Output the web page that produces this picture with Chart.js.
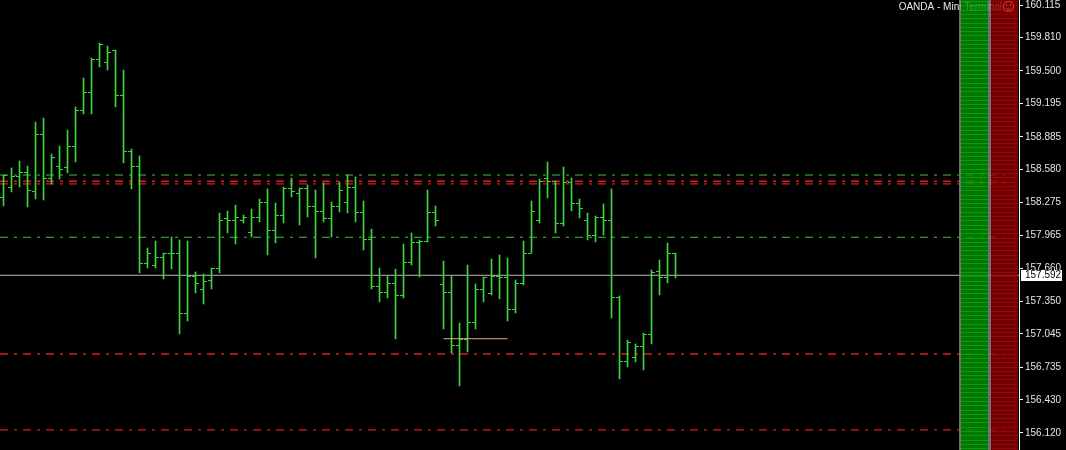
<!DOCTYPE html>
<html>
<head>
<meta charset="utf-8">
<script src="https://cdn.jsdelivr.net/npm/chart.js@4.4.1/dist/chart.umd.min.js"></script>
<style>
html, body { margin: 0; padding: 0; background: #000; overflow: hidden; }
#chart { display: block; }
</style>
</head>
<body>
<canvas id="chart" width="1066" height="450"></canvas>
<script>
// OHLC bars, oldest first
const opens = [
  158.314, 158.416, 158.510, 158.547, 158.370, 158.902, 158.491, 158.603, 158.594, 158.799,
  159.135, 159.303, 159.611, 159.583, 159.695, 159.275, 158.743, 158.612, 157.698, 157.679,
  157.754, 157.800, 157.800, 157.231, 157.585, 157.464, 157.539, 157.651, 158.118, 158.108,
  158.108, 157.996, 158.136, 158.276, 158.006, 158.146, 158.398, 158.360, 158.398, 158.230,
  158.192, 158.118, 158.230, 158.267, 158.416, 158.174, 157.922, 157.483, 157.427, 157.511,
  157.399, 157.707, 157.894, 157.903, 158.174, 157.502, 157.427, 156.941, 156.997, 157.147,
  157.464, 157.418, 157.585, 157.567, 157.268, 157.520, 157.800, 158.108, 158.491, 158.463,
  158.071, 158.454, 158.258, 158.099, 157.959, 158.136, 158.099, 157.389, 156.783, 156.829,
  156.923, 157.035, 157.623, 157.567, 157.800
];
const highs = [
  158.528, 158.594, 158.659, 158.612, 159.023, 159.060, 158.724, 158.799, 158.948, 159.163,
  159.434, 159.620, 159.760, 159.732, 159.695, 159.508, 158.771, 158.706, 157.847, 157.912,
  157.800, 157.950, 157.922, 157.912, 157.623, 157.604, 157.660, 158.174, 158.192, 158.248,
  158.155, 158.211, 158.304, 158.398, 158.267, 158.416, 158.500, 158.407, 158.435, 158.388,
  158.454, 158.276, 158.463, 158.528, 158.510, 158.286, 158.024, 157.660, 157.585, 157.651,
  157.884, 157.987, 157.922, 158.388, 158.239, 157.726, 157.585, 157.147, 157.688, 157.511,
  157.576, 157.744, 157.782, 157.754, 157.548, 157.912, 158.286, 158.491, 158.650, 158.472,
  158.603, 158.500, 158.304, 158.174, 158.146, 158.258, 158.398, 157.399, 156.988, 156.951,
  157.053, 157.642, 157.735, 157.894, 157.800
];
const lows = [
  158.239, 158.370, 158.416, 158.230, 158.304, 158.295, 158.444, 158.491, 158.547, 158.650,
  159.098, 159.098, 159.536, 159.508, 159.163, 158.640, 158.398, 157.614, 157.660, 157.660,
  157.558, 157.651, 157.044, 157.165, 157.427, 157.324, 157.464, 157.614, 157.987, 157.884,
  158.080, 157.950, 158.090, 157.782, 157.894, 158.080, 158.323, 158.061, 158.136, 157.754,
  158.090, 157.950, 158.183, 158.174, 158.090, 157.828, 157.464, 157.343, 157.380, 156.997,
  157.380, 157.688, 157.576, 157.903, 158.052, 157.091, 156.867, 156.559, 156.876, 157.091,
  157.343, 157.408, 157.371, 157.165, 157.240, 157.502, 157.800, 158.080, 158.314, 157.987,
  158.052, 158.192, 158.127, 157.922, 157.903, 157.968, 157.193, 156.624, 156.736, 156.783,
  156.708, 156.951, 157.408, 157.520, 157.567
];
const closes = [
  158.528, 158.510, 158.547, 158.379, 158.902, 158.500, 158.687, 158.584, 158.799, 159.135,
  159.303, 159.611, 159.742, 159.676, 159.275, 158.743, 158.612, 157.698, 157.800, 157.754,
  157.800, 157.800, 157.231, 157.585, 157.511, 157.530, 157.651, 158.108, 158.108, 158.127,
  158.136, 158.127, 158.276, 158.006, 158.146, 158.398, 158.370, 158.398, 158.230, 158.192,
  158.118, 158.230, 158.379, 158.416, 158.174, 157.922, 157.492, 157.436, 157.520, 157.399,
  157.707, 157.894, 157.903, 158.174, 158.099, 157.427, 156.941, 156.997, 157.147, 157.464,
  157.576, 157.585, 157.567, 157.268, 157.520, 157.800, 158.183, 158.463, 158.463, 158.071,
  158.454, 158.258, 158.220, 157.959, 158.136, 158.099, 157.389, 156.783, 156.960, 156.923,
  157.035, 157.614, 157.567, 157.800, 157.592
];

const priceTicks = [160.115, 159.810, 159.500, 159.195, 158.885, 158.580, 158.275,
  157.965, 157.660, 157.350, 157.045, 156.735, 156.430, 156.120];

const greenLevels = [158.528, 157.947];
const redLevels = [158.470, 158.446, 156.857, 156.148];
const bidPrice = 157.592;
const markLevel = 157.000;
const markFrom = 55, markTo = 63;

const BAR_COLOR = '#3fd23f';
const xMin = -0.4375, xMax = 126.9375, levelEnd = 126.2;
const yMin = 155.961, yMax = 160.162;

function tickImage(side) {
  const c = document.createElement('canvas');
  c.width = 7; c.height = 1;
  const g = c.getContext('2d');
  g.fillStyle = BAR_COLOR;
  g.fillRect(side === 'left' ? 0 : 4, 0, 3, 1);
  return c;
}

function levelLine(v, color, width) {
  return {
    type: 'line',
    data: [{ x: xMin, y: v }, { x: levelEnd, y: v }],
    borderColor: color,
    borderWidth: width,
    borderDash: [8, 6, 3, 6],
    pointRadius: 0,
    order: 5
  };
}

const idx = opens.map((_, i) => i);

const terminalPanel = {
  id: 'terminalPanel',
  afterDatasetsDraw(chart) {
    const ctx = chart.ctx;
    const r = chart.chartArea.right;
    const h = chart.height;
    ctx.save();
    ctx.font = '10px "Liberation Sans", Arial, sans-serif';
    ctx.fillStyle = '#e8e8e8';
    ctx.textAlign = 'right';
    ctx.textBaseline = 'alphabetic';
    ctx.fillText('OANDA - Mini Terminal', r - 17, 10);

    ctx.globalAlpha = 0.82;
    ctx.fillStyle = '#8a8a8a';
    ctx.fillRect(r - 60, 0, 2, h);
    ctx.fillRect(r - 31, 0, 3, h);
    ctx.fillStyle = '#009200';
    ctx.fillRect(r - 58, 0, 27, h);
    ctx.fillStyle = '#8c0000';
    ctx.fillRect(r - 28, 0, 27, h);
    ctx.globalAlpha = 0.35;
    for (let y = 1; y < h; y += 4.3) {
      ctx.fillStyle = '#30d030';
      ctx.fillRect(r - 58, Math.round(y), 27, 1);
      ctx.fillStyle = '#c02020';
      ctx.fillRect(r - 28, Math.round(y), 27, 1);
    }
    ctx.globalAlpha = 1;

    // smiley
    const cx = r - 10.5, cy = 6.5;
    ctx.strokeStyle = '#ff3a3a';
    ctx.lineWidth = 1;
    ctx.beginPath(); ctx.arc(cx, cy, 5, 0, Math.PI * 2); ctx.stroke();
    ctx.fillStyle = '#ff3a3a';
    ctx.fillRect(cx - 2.5, cy - 2, 1.2, 1.2);
    ctx.fillRect(cx + 1.3, cy - 2, 1.2, 1.2);
    ctx.beginPath(); ctx.arc(cx, cy + 0.3, 2.6, 0.2 * Math.PI, 0.8 * Math.PI); ctx.stroke();
    ctx.restore();
  },
  afterDraw(chart) {
    const ctx = chart.ctx;
    const y = chart.scales.y.getPixelForValue(bidPrice);
    const r = chart.chartArea.right;
    ctx.save();
    ctx.fillStyle = '#ffffff';
    ctx.fillRect(r + 2, Math.round(y) - 5, 41, 11);
    ctx.fillStyle = '#000000';
    ctx.font = '10px "Liberation Sans", Arial, sans-serif';
    ctx.textAlign = 'left';
    ctx.textBaseline = 'middle';
    ctx.fillText(bidPrice.toFixed(3), r + 6, Math.round(y) + 0.5);
    ctx.restore();
  }
};

const blackBg = {
  id: 'blackBg',
  beforeDraw(chart) {
    const ctx = chart.ctx;
    ctx.save();
    ctx.fillStyle = '#000';
    ctx.fillRect(0, 0, chart.width, chart.height);
    ctx.restore();
  }
};

const datasets = [
  {
    type: 'bar',
    data: idx.map(i => ({ x: i, y: [lows[i], highs[i]] })),
    backgroundColor: BAR_COLOR,
    borderWidth: 0,
    barThickness: 1,
    order: 1
  },
  {
    type: 'scatter',
    data: idx.map(i => ({ x: i, y: opens[i] })),
    pointStyle: tickImage('left'),
    order: 1
  },
  {
    type: 'scatter',
    data: idx.map(i => ({ x: i, y: closes[i] })),
    pointStyle: tickImage('right'),
    order: 1
  },
  ...greenLevels.map(v => levelLine(v, '#3cbf3c', 1)),
  ...redLevels.map(v => levelLine(v, '#dc1c1c', 1.3)),
  {
    type: 'line',
    data: [{ x: xMin, y: bidPrice }, { x: xMax, y: bidPrice }],
    borderColor: '#b8b8b8',
    borderWidth: 1,
    pointRadius: 0,
    order: 4
  },
  {
    type: 'line',
    data: [{ x: markFrom, y: markLevel }, { x: markTo, y: markLevel }],
    borderColor: '#f0aa6c',
    borderWidth: 1,
    pointRadius: 0,
    order: 0
  }
];

new Chart(document.getElementById('chart'), {
  type: 'bar',
  data: { datasets },
  options: {
    responsive: false,
    animation: false,
    devicePixelRatio: 1,
    layout: { padding: 0, autoPadding: false },
    plugins: { legend: { display: false }, tooltip: { enabled: false } },
    scales: {
      x: {
        type: 'linear',
        min: xMin,
        max: xMax,
        offset: false,
        display: false
      },
      y: {
        type: 'linear',
        position: 'right',
        min: yMin,
        max: yMax,
        afterBuildTicks(scale) {
          scale.ticks = priceTicks.map(v => ({ value: v }));
        },
        afterFit(scale) {
          scale.width = 47;
          scale.paddingTop = 0;
          scale.paddingBottom = 0;
        },
        border: { color: '#ffffff', width: 1 },
        grid: { drawOnChartArea: false, drawTicks: true, tickLength: 4, color: '#ffffff' },
        ticks: {
          color: '#e4e4e4',
          padding: 2,
          autoSkip: false,
          font: { family: '"Liberation Sans", Arial, sans-serif', size: 10 },
          callback: v => Number(v).toFixed(3)
        }
      }
    }
  },
  plugins: [blackBg, terminalPanel]
});
</script>
</body>
</html>
